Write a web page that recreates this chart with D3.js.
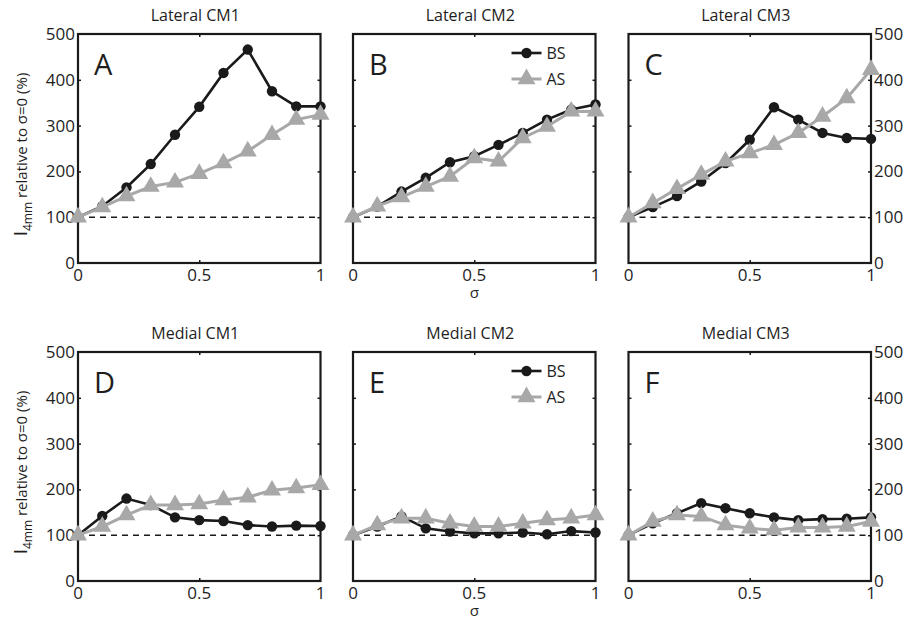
<!DOCTYPE html>
<html lang="en">
<head>
<meta charset="UTF-8">
<title>I4mm relative to sigma=0</title>
<script src="https://cdn.jsdelivr.net/npm/d3@7"></script>
<style>
  body { margin: 0; background: #fff; }
  svg text { font-family: "Open Sans", "DejaVu Sans", sans-serif; fill: #1e1e1e; }
</style>
</head>
<body>
<svg id="fig" width="907" height="620"></svg>
<script>
// sigma values (x) and tick labels
const sigma = [0, 0.1, 0.2, 0.3, 0.4, 0.5, 0.6, 0.7, 0.8, 0.9, 1];
const xTicks = [0, 0.5, 1];
const yTicks = [0, 100, 200, 300, 400, 500];

const titles = ['Lateral CM1', 'Lateral CM2', 'Lateral CM3', 'Medial CM1', 'Medial CM2', 'Medial CM3'];
const letters = ['A', 'B', 'C', 'D', 'E', 'F'];
const seriesNames = ['BS', 'AS'];

// BS = black circles, AS = grey triangles
const bsLatCM1 = [100, 124, 165, 216, 280, 341, 415, 466, 375, 342, 342];
const asLatCM1 = [100, 122, 146, 167, 176, 195, 218, 244, 280, 313, 324];
const bsLatCM2 = [100, 123, 156, 186, 220, 233, 258, 284, 313, 335, 346];
const asLatCM2 = [100, 124, 144, 167, 189, 229, 222, 273, 298, 331, 331];
const bsLatCM3 = [100, 122, 146, 178, 218, 269, 340, 313, 284, 273, 271];
const asLatCM3 = [100, 131, 162, 193, 222, 240, 258, 284, 320, 360, 422];
const bsMedCM1 = [100, 142, 180, 166, 139, 133, 131, 122, 119, 121, 120];
const asMedCM1 = [100, 119, 144, 166, 166, 168, 177, 183, 198, 203, 210];
const bsMedCM2 = [100, 119, 141, 115, 108, 104, 104, 106, 102, 109, 106];
const asMedCM2 = [100, 122, 137, 137, 126, 119, 119, 126, 133, 137, 144];
const bsMedCM3 = [100, 126, 148, 170, 159, 148, 139, 133, 135, 136, 139];
const asMedCM3 = [100, 130, 144, 141, 122, 115, 111, 117, 117, 119, 130];

const bsData = [bsLatCM1, bsLatCM2, bsLatCM3, bsMedCM1, bsMedCM2, bsMedCM3];
const asData = [asLatCM1, asLatCM2, asLatCM3, asMedCM1, asMedCM2, asMedCM3];

// layout
const lefts = [78, 353, 628.5];
const tops = [34, 352];
const pw = 242.5, ph = 229;
const black = '#1a1a1a', grey = '#a8a8a8';

const svg = d3.select('#fig');
const x = d3.scaleLinear().domain([0, 1]).range([0, pw]);
const y = d3.scaleLinear().domain([0, 500]).range([ph, 0]);
const line = d3.line().x((d, i) => x(sigma[i])).y(d => y(d));
const tri = d3.symbol().type(d3.symbolTriangle).size(140);

titles.forEach((t, k) => {
    const col = k % 3, row = Math.floor(k / 3);
    const g = svg.append('g').attr('transform', `translate(${lefts[col]},${tops[row]})`);

    // inner ticks on all four sides
    g.append('g').call(d3.axisLeft(y).tickValues(yTicks.slice(1, 5)).tickSizeInner(-3).tickSizeOuter(0));
    g.append('g').attr('transform', `translate(${pw},0)`)
        .call(d3.axisRight(y).tickValues(yTicks.slice(1, 5)).tickSizeInner(-3).tickSizeOuter(0));
    g.append('g').call(d3.axisTop(x).tickValues([0.5]).tickSizeInner(-3).tickSizeOuter(0));
    g.append('g').attr('transform', `translate(0,${ph})`)
        .call(d3.axisBottom(x).tickValues([0.5]).tickSizeInner(-3).tickSizeOuter(0));
    g.selectAll('.domain').remove();
    g.selectAll('.tick text').remove();
    g.selectAll('.tick line').attr('stroke', black).attr('stroke-width', 1.5);

    // y tick labels (left on first column, right on last)
    if (col !== 1) {
        g.selectAll('.ylab').data(yTicks).enter().append('text')
            .attr('x', col === 0 ? -3 : pw + 3)
            .attr('y', d => y(d) + 6)
            .attr('text-anchor', col === 0 ? 'end' : 'start')
            .attr('font-size', 17)
            .text(d => d);
    }

    // x tick labels
    g.selectAll('.xlab').data(xTicks).enter().append('text')
        .attr('x', d => x(d))
        .attr('y', ph + 18)
        .attr('text-anchor', 'middle')
        .attr('font-size', 17)
        .text(d => d);

    // box
    g.append('rect').attr('width', pw).attr('height', ph)
        .attr('fill', 'none').attr('stroke', black).attr('stroke-width', 2.2);

    // dashed reference at 100 %
    g.append('line').attr('x1', x(0)).attr('x2', x(1)).attr('y1', y(100)).attr('y2', y(100))
        .attr('stroke', black).attr('stroke-width', 1.6).attr('stroke-dasharray', '6,5');

    // title and panel letter
    g.append('text').attr('x', pw / 2 - 4).attr('y', -13).attr('text-anchor', 'middle')
        .attr('font-size', 16).text(t);
    g.append('text').attr('x', 16).attr('y', 41).attr('font-size', 29).text(letters[k]);

    // BS
    g.append('path').datum(bsData[k]).attr('d', line)
        .attr('fill', 'none').attr('stroke', black).attr('stroke-width', 2.6);
    g.selectAll('.bs').data(bsData[k]).enter().append('circle')
        .attr('cx', (d, i) => x(sigma[i])).attr('cy', d => y(d)).attr('r', 5.2).attr('fill', black);

    // AS
    g.append('path').datum(asData[k]).attr('d', line)
        .attr('fill', 'none').attr('stroke', grey).attr('stroke-width', 3);
    g.selectAll('.as').data(asData[k]).enter().append('path')
        .attr('d', tri).attr('transform', (d, i) => `translate(${x(sigma[i])},${y(d)})`)
        .attr('fill', grey);

    // legend + sigma label in middle column
    if (col === 1) {
        const lg = g.append('g').attr('transform', `translate(${pw - 84},19)`);
        seriesNames.forEach((n, j) => {
            const c = j === 0 ? black : grey;
            const r = lg.append('g').attr('transform', `translate(0,${j * 26})`);
            r.append('line').attr('x1', 0).attr('x2', 30).attr('stroke', c).attr('stroke-width', j === 0 ? 2.6 : 3);
            if (j === 0) r.append('circle').attr('cx', 15).attr('r', 5.2).attr('fill', c);
            else r.append('path').attr('d', tri).attr('transform', 'translate(15,0)').attr('fill', c);
            r.append('text').attr('x', 35).attr('y', 6).attr('font-size', 16).text(n);
        });
        g.append('text').attr('x', pw / 2).attr('y', ph + 35).attr('text-anchor', 'middle')
            .attr('font-size', 15).text('σ');
    }

    // y axis label
    if (col === 0) {
        const yl = g.append('text').attr('transform', `translate(-51,${ph / 2 + 6}) rotate(-90)`)
            .attr('text-anchor', 'middle').attr('font-size', 15);
        yl.append('tspan').attr('font-size', 19).text('I');
        yl.append('tspan').attr('dy', 5).attr('font-size', 12).text('4mm');
        yl.append('tspan').attr('dy', -5).text(' relative to  σ=0 (%)');
    }
});
</script>
</body>
</html>
